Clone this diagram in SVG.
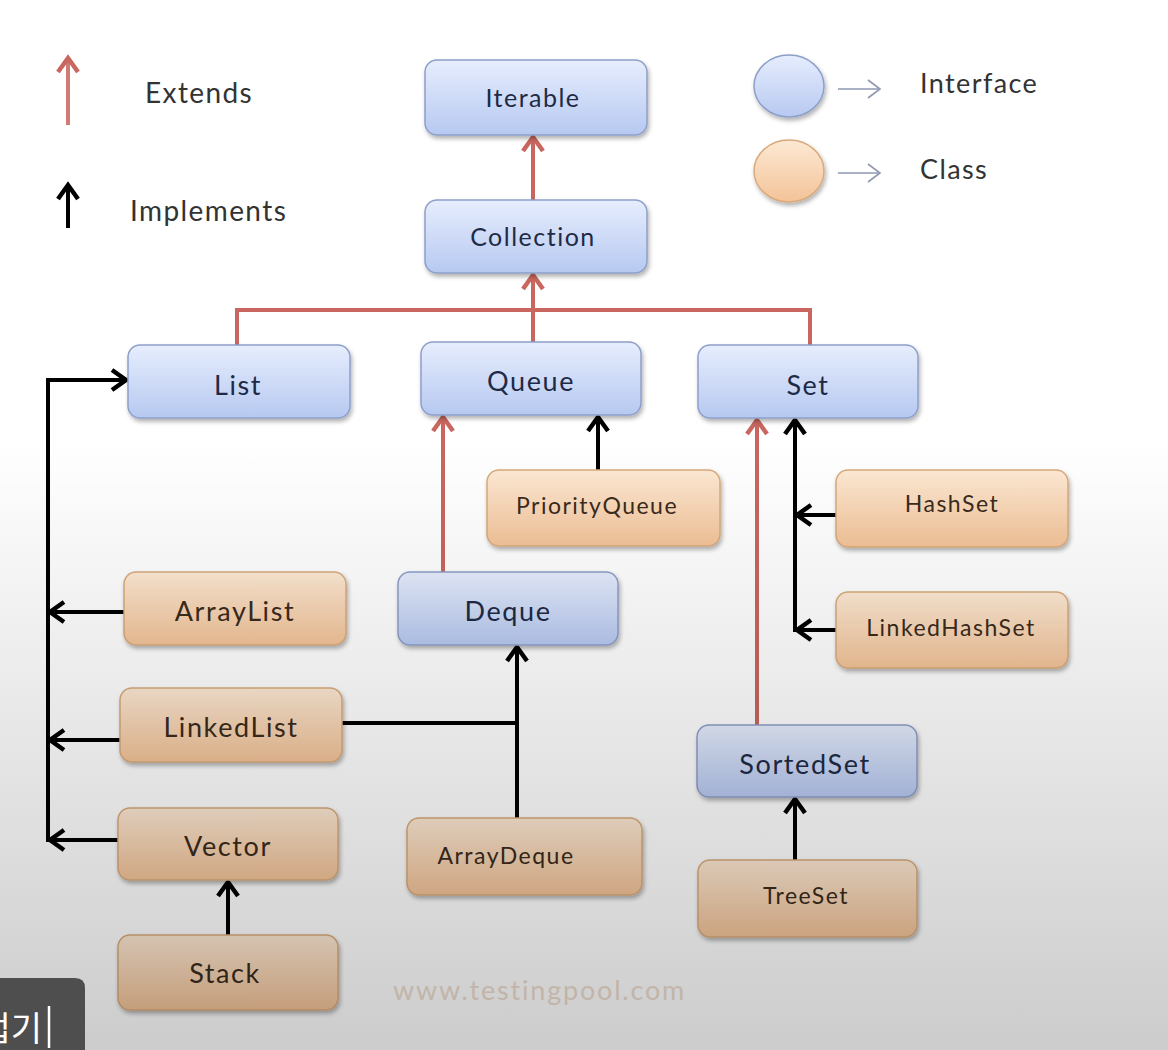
<svg xmlns="http://www.w3.org/2000/svg" width="1168" height="1050" viewBox="0 0 1168 1050">
<style>
.iface rect{fill:url(#gBlue);stroke:#8d9fc9;stroke-width:1.5;filter:url(#sh)}
.cls rect{fill:url(#gOrange);stroke:#d8aa7c;stroke-width:1.5;filter:url(#sh)}
.iface text{fill:#1e2a46}
.cls text{fill:#3b2b1c}
text{font-family:Lato,"Open Sans","Liberation Sans",sans-serif;text-anchor:middle;dominant-baseline:central}
.big{font-size:27px;letter-spacing:1.6px}
.mid{font-size:25px;letter-spacing:1.5px}
.sm{font-size:23px;letter-spacing:1.5px}
.leg{font-size:28px;letter-spacing:1.4px;fill:#333;text-anchor:start}
.ext{fill:none;stroke:#c8665f;stroke-width:4}
.imp{fill:none;stroke:#000;stroke-width:4}
</style>
<defs>
<linearGradient id="gBlue" x1="0" y1="0" x2="0" y2="1">
<stop offset="0" stop-color="#e6edfd"/><stop offset="1" stop-color="#b7c9f1"/>
</linearGradient>
<linearGradient id="gOrange" x1="0" y1="0" x2="0" y2="1">
<stop offset="0" stop-color="#fde9d4"/><stop offset="1" stop-color="#f3c398"/>
</linearGradient>
<linearGradient id="gShade" x1="0" y1="0" x2="0" y2="1">
<stop offset="0" stop-color="#000" stop-opacity="0"/>
<stop offset="0.42" stop-color="#000" stop-opacity="0"/>
<stop offset="1" stop-color="#000" stop-opacity="0.2"/>
</linearGradient>
<filter id="sh" x="-10%" y="-10%" width="125%" height="135%">
<feDropShadow dx="1.5" dy="3" stdDeviation="2" flood-color="#000" flood-opacity="0.3"/>
</filter>
<marker id="aR" markerUnits="userSpaceOnUse" markerWidth="26" markerHeight="26" viewBox="0 0 26 26" refX="21" refY="13" orient="auto">
<path d="M7,3 L21,13 L7,23" fill="none" stroke="#c8665f" stroke-width="4.5"/>
</marker>
<marker id="aB" markerUnits="userSpaceOnUse" markerWidth="26" markerHeight="26" viewBox="0 0 26 26" refX="21" refY="13" orient="auto">
<path d="M7,3 L21,13 L7,23" fill="none" stroke="#000" stroke-width="4.5"/>
</marker>
<marker id="aL" markerUnits="userSpaceOnUse" markerWidth="24" markerHeight="24" viewBox="0 0 24 24" refX="20" refY="12" orient="auto">
<path d="M8,3 L20,12 L8,21" fill="none" stroke="#8f97b3" stroke-width="1.6"/>
</marker>
</defs>
<rect x="0" y="0" width="1168" height="1050" fill="#ffffff"/>

<g id="legend">
<line x1="68" y1="125" x2="68" y2="58" stroke="#d07b73" stroke-width="4" marker-end="url(#aR)"/>
<text class="leg" x="145" y="92">Extends</text>
<line x1="68" y1="228" x2="68" y2="185" class="imp" marker-end="url(#aB)"/>
<text class="leg" x="130" y="210">Implements</text>
<ellipse cx="789" cy="86" rx="35" ry="31" fill="url(#gBlue)" stroke="#8d9fc9" stroke-width="1.5" filter="url(#sh)"/>
<line x1="838" y1="89" x2="880" y2="89" stroke="#8f97b3" stroke-width="1.6" marker-end="url(#aL)"/>
<text class="leg" x="920" y="82" style="font-size:27px">Interface</text>
<ellipse cx="789" cy="171" rx="35" ry="31" fill="url(#gOrange)" stroke="#d8aa7c" stroke-width="1.5" filter="url(#sh)"/>
<line x1="838" y1="173" x2="880" y2="173" stroke="#8f97b3" stroke-width="1.6" marker-end="url(#aL)"/>
<text class="leg" x="920" y="168" style="font-size:27px">Class</text>
</g>

<g id="connectors">
<path class="ext" d="M533,200 L533,137" marker-end="url(#aR)"/>
<path class="ext" d="M533,342 L533,275" marker-end="url(#aR)"/>
<path class="ext" d="M237,345 L237,310 L810,310 L810,345"/>
<path class="ext" d="M443,572 L443,417" marker-end="url(#aR)"/>
<path class="ext" d="M757,725 L757,420" marker-end="url(#aR)"/>
<path class="imp" d="M598,470 L598,417" marker-end="url(#aB)"/>
<path class="imp" d="M48,842 L48,380 L126,380" marker-end="url(#aB)"/>
<path class="imp" d="M124,612 L50,612" marker-end="url(#aB)"/>
<path class="imp" d="M120,740 L50,740" marker-end="url(#aB)"/>
<path class="imp" d="M118,840 L50,840" marker-end="url(#aB)"/>
<path class="imp" d="M228,935 L228,882" marker-end="url(#aB)"/>
<path class="imp" d="M342,723 L517,723"/>
<path class="imp" d="M517,818 L517,647" marker-end="url(#aB)"/>
<path class="imp" d="M836,515 L797,515" marker-end="url(#aB)"/>
<path class="imp" d="M836,630 L797,630" marker-end="url(#aB)"/>
<path class="imp" d="M795,632 L795,420" marker-end="url(#aB)"/>
<path class="imp" d="M795,860 L795,799" marker-end="url(#aB)"/>
</g>

<g id="Iterable" class="iface"><rect x="425" y="60" width="222" height="75" rx="12"/><text class="mid" x="533" y="97">Iterable</text></g>
<g id="Collection" class="iface"><rect x="425" y="200" width="222" height="73" rx="12"/><text class="mid" x="533" y="236">Collection</text></g>
<g id="List" class="iface"><rect x="128" y="345" width="222" height="73" rx="12"/><text class="big" x="238" y="384">List</text></g>
<g id="Queue" class="iface"><rect x="421" y="342" width="220" height="73" rx="12"/><text class="big" x="531" y="380">Queue</text></g>
<g id="Set" class="iface"><rect x="698" y="345" width="220" height="73" rx="12"/><text class="big" x="808" y="384">Set</text></g>
<g id="PriorityQueue" class="cls"><rect x="487" y="470" width="233" height="76" rx="12"/><text class="sm" x="597" y="505">PriorityQueue</text></g>
<g id="Deque" class="iface"><rect x="398" y="572" width="220" height="73" rx="12"/><text class="big" x="508" y="610">Deque</text></g>
<g id="HashSet" class="cls"><rect x="836" y="470" width="232" height="77" rx="12"/><text class="sm" x="952" y="503">HashSet</text></g>
<g id="LinkedHashSet" class="cls"><rect x="836" y="592" width="232" height="76" rx="12"/><text class="sm" x="951" y="627">LinkedHashSet</text></g>
<g id="ArrayList" class="cls"><rect x="124" y="572" width="222" height="73" rx="12"/><text class="big" x="235" y="610">ArrayList</text></g>
<g id="LinkedList" class="cls"><rect x="120" y="688" width="222" height="74" rx="12"/><text class="big" x="231" y="726">LinkedList</text></g>
<g id="SortedSet" class="iface"><rect x="697" y="725" width="220" height="72" rx="12"/><text class="big" x="805" y="763">SortedSet</text></g>
<g id="Vector" class="cls"><rect x="118" y="808" width="220" height="72" rx="12"/><text class="big" x="228" y="845">Vector</text></g>
<g id="ArrayDeque" class="cls"><rect x="407" y="818" width="235" height="77" rx="12"/><text class="sm" x="506" y="855">ArrayDeque</text></g>
<g id="TreeSet" class="cls"><rect x="698" y="860" width="219" height="77" rx="12"/><text class="sm" x="806" y="895">TreeSet</text></g>
<g id="Stack" class="cls"><rect x="118" y="935" width="220" height="75" rx="12"/><text class="big" x="225" y="972">Stack</text></g>

<text x="393" y="989" style="font-size:27px;letter-spacing:1.8px;text-anchor:start;fill:#eddcce">www.testingpool.com</text>

<rect x="0" y="0" width="1168" height="1050" fill="url(#gShade)"/>

<g id="overlay-button">
<path d="M0,978 L75,978 Q85,978 85,988 L85,1050 L0,1050 Z" fill="#4e4e4e"/>
<text x="42" y="1026" style="font-family:'Noto Sans CJK KR',sans-serif;font-size:34px;fill:#fff;text-anchor:end">접기</text>
<line x1="49" y1="1006" x2="49" y2="1048" stroke="#fff" stroke-width="2.5"/>
</g>
</svg>
